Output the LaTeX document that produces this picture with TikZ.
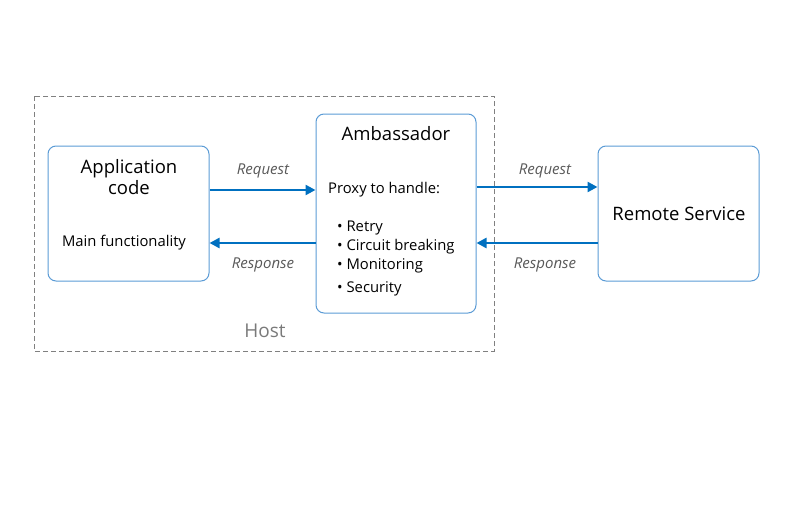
\documentclass[tikz,border=0pt]{standalone}
\usepackage{fontspec}
\setmainfont{Open Sans}
\usetikzlibrary{arrows.meta}
\definecolor{boxblue}{HTML}{5B9BD5}
\definecolor{flowblue}{HTML}{0070C0}
\definecolor{hostgray}{HTML}{808080}
\definecolor{labelgray}{HTML}{595959}
\tikzset{
  box/.style={draw=boxblue, line width=1pt, rounded corners=8pt, inner sep=0pt},
  flow/.style={draw=flowblue, line width=2.4pt, -{Triangle[length=10pt,width=10pt]}},
  msg/.style={text=labelgray, font=\fontsize{15}{17}\selectfont\itshape, inner sep=0pt},
  title/.style={font=\fontsize{18.5}{23}\selectfont, align=center, inner sep=0pt},
  body/.style={font=\fontsize{14.8}{17}\selectfont, inner sep=0pt}
}
\begin{document}
\begin{tikzpicture}[x=1pt,y=-1pt]
    \useasboundingbox (0,0) rectangle (790,527);

    % host boundary
    \draw[hostgray, line width=1pt, dash pattern=on 5pt off 3pt] (34,96) rectangle (494,351);
    \node[text=labelgray!80, font=\fontsize{19}{22}\selectfont, inner sep=0pt] (host) at (265,331) {Host};

    % boxes
    \node[box, minimum width=161pt, minimum height=135pt] (app) at (128.5,213.5) {};
    \node[box, minimum width=160pt, minimum height=199pt] (amb) at (396,213.5) {};
    \node[box, minimum width=161pt, minimum height=135pt] (remote) at (678.5,213.5) {};

    % texts
    \node[title] (apptitle) at (129,177.5) {Application\\[-2pt]code};
    \node[body] (appbody) at (124,242.5) {Main functionality};
    \node[title] (ambtitle) at (396,134) {Ambassador};
    \node[body, anchor=west] (proxy) at (328,189.5) {Proxy to handle:};
    \node[body, anchor=west] (retry) at (337,227.5) {\textbullet\ Retry};
    \node[body, anchor=west] (circuit) at (337,246.5) {\textbullet\ Circuit breaking};
    \node[body, anchor=west] (monitor) at (337,265.5) {\textbullet\ Monitoring};
    \node[body, anchor=west] (security) at (337,288.5) {\textbullet\ Security};
    \node[title] (remotetitle) at (679,214) {Remote Service};

    % connectors
    \draw[flow] ([yshift=23.5pt]app.east) -- ([yshift=23.5pt]app.east -| amb.west);
    \draw[flow] ([yshift=-29.5pt]amb.west) -- ([yshift=-29.5pt]amb.west -| app.east);
    \draw[flow] ([yshift=26.5pt]amb.east) -- ([yshift=26.5pt]amb.east -| remote.west);
    \draw[flow] ([yshift=-29.5pt]remote.west) -- ([yshift=-29.5pt]remote.west -| amb.east);

    % message labels
    \node[msg] (req1) at (263,171) {Request};
    \node[msg] (resp1) at (263,265) {Response};
    \node[msg] (req2) at (545,171) {Request};
    \node[msg] (resp2) at (545,265) {Response};
\end{tikzpicture}
\end{document}
